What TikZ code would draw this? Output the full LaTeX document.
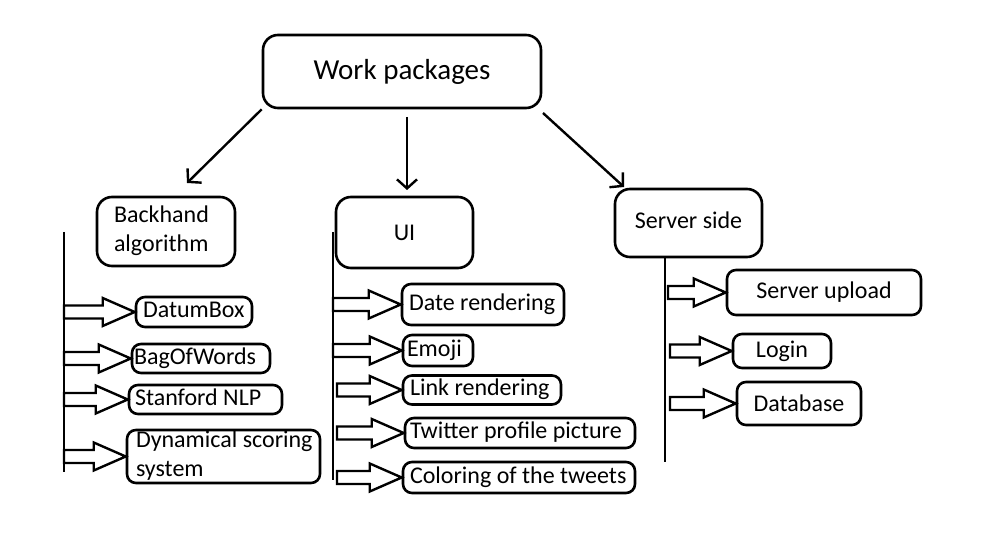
\documentclass[tikz,border=0pt]{standalone}
\usepackage{fontspec}
\setmainfont{Carlito}
\usetikzlibrary{arrows.meta,calc}
\tikzset{
  box/.style={draw, line width=2.6pt, rounded corners=9pt, inner sep=0pt,
    font=\fontsize{24}{29}\selectfont, align=center},
  lbox/.style={box, inner xsep=7pt, inner ysep=0pt},
  bigbox/.style={box, rounded corners=15pt},
  link/.style={line width=2.4pt, -{Straight Barb[length=9pt,width=20pt,line width=2.4pt]}},
  trunk/.style={line width=2.6pt},
  barrow/.style={line width=2.4pt, line join=miter},
}
\newcommand{\lt}[2]{\makebox[#1pt][l]{\begin{tabular}{@{}l@{}}#2\end{tabular}}}
\newcommand{\blockarr}[2]{%
  \draw[barrow] let \p1=(#2.west) in
    (#1pt,\y1+6.5pt) -- (\x1-32pt,\y1+6.5pt) -- (\x1-32pt,\y1+14pt) -- (\x1,\y1)
    -- (\x1-32pt,\y1-14pt) -- (\x1-32pt,\y1-6.5pt) -- (#1pt,\y1-6.5pt) -- cycle;}
\begin{document}
\begin{tikzpicture}[x=1pt,y=-1pt]
\useasboundingbox[fill=white] (0,0) rectangle (997,537);

% top level
\node[bigbox, minimum width=278pt, minimum height=73pt, font=\fontsize{29}{33}\selectfont] (wp) at (402,71.5) {Work packages};
\node[bigbox, inner xsep=17pt, minimum height=69pt] (bh) at (166,231.5) {\lt{104}{Backhand\\algorithm}};
\node[bigbox, minimum width=137pt, minimum height=71pt] (ui) at (404.5,232.5) {UI};
\node[bigbox, minimum width=147pt, minimum height=68pt] (ss) at (688.5,223) {\raisebox{5pt}{Server side}};

% top arrows
\coordinate (t1e) at (187,183);
\coordinate (t2s) at (407,117);
\coordinate (t2e) at (407,190);
\coordinate (t3s) at (543,113);
\coordinate (t3e) at (624,187);
\draw[link] (wp.south west) -- (t1e);
\draw[link] (t2s) -- (t2e);
\draw[link] (t3s) -- (t3e);

% trunks
\coordinate (v1a) at (64,232);  \coordinate (v1b) at (64,472);
\coordinate (v2a) at (333,232); \coordinate (v2b) at (333,480);
\coordinate (v3a) at (665,257); \coordinate (v3b) at (665,462);
\draw[trunk] (v1a) -- (v1b);
\draw[trunk] (v2a) -- (v2b);
\draw[trunk] (v3a) -- (v3b);

% backhand children
\node[lbox, minimum height=30pt] (datum) at (194,312) {\lt{102}{DatumBox}};
\node[lbox, inner xsep=2pt, minimum height=29pt] (bag) at (201,358.5) {\lt{134}{BagOfWords}};
\node[lbox, inner xsep=6pt, minimum height=25pt] (stan) at (205.5,399.5) {\lt{141}{Stanford NLP}};
\node[lbox, inner xsep=9pt, inner ysep=-2.5pt, minimum height=53pt] (dyn) at (223.5,456.5) {\lt{175}{Dynamical scoring\\system}};

% UI children
\node[lbox, minimum height=41pt] (date) at (483,304.5) {\lt{148}{Date rendering}};
\node[lbox, inner xsep=4pt, minimum height=31pt] (emoji) at (438,350.5) {\lt{62}{Emoji}};
\node[lbox, minimum height=26pt] (linkr) at (482,390) {\lt{144}{Link rendering}};
\node[lbox, inner xsep=5pt, minimum height=30pt] (twit) at (520,433) {\lt{220}{Twitter profile picture}};
\node[lbox, minimum height=31pt] (col) at (519,477.5) {\lt{218}{Coloring of the tweets}};

% server children
\node[box, minimum width=194pt, minimum height=45pt] (sup) at (824,292.5) {Server upload};
\node[box, minimum width=98pt, minimum height=34pt] (login) at (782,351) {Login};
\node[box, minimum width=124pt, minimum height=43pt] (db) at (799,403.5) {Database};

% block arrows
\blockarr{64}{datum}
\blockarr{64}{bag}
\blockarr{64}{stan}
\blockarr{64}{dyn}
\blockarr{333}{date}
\blockarr{333}{emoji}
\blockarr{337}{linkr}
\blockarr{337}{twit}
\blockarr{337}{col}
\blockarr{668}{sup}
\blockarr{670}{login}
\blockarr{670}{db}
\end{tikzpicture}
\end{document}
